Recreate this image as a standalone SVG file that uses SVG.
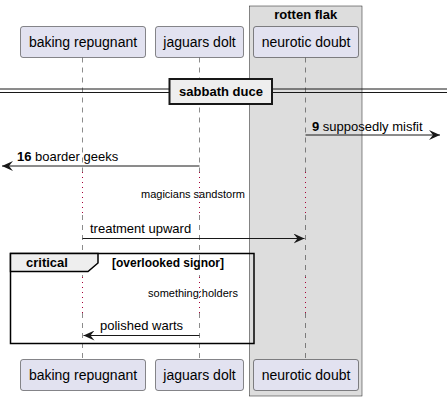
<svg xmlns="http://www.w3.org/2000/svg" width="447" height="401" viewBox="0 0 447 401">
<style>
.p{fill:#E2E2F0;stroke:#181818;stroke-width:0.5}
.pt{font-family:"Liberation Sans",Arial,sans-serif;font-size:14px;fill:#000;text-anchor:middle}
.ll{stroke:#181818;stroke-width:0.5;stroke-dasharray:5,5;fill:none}
.dl{stroke:#A80036;stroke-width:1;stroke-dasharray:1,4;fill:none}
.m{stroke:#181818;stroke-width:1;fill:none}
.mt{font-family:"Liberation Sans",Arial,sans-serif;font-size:13px;fill:#000}
.st{font-family:"Liberation Sans",Arial,sans-serif;font-size:11px;fill:#000}
.b{font-weight:bold}
</style>
<defs>
<marker id="ah" viewBox="0 0 12 10" refX="11" refY="5" markerWidth="12" markerHeight="10" markerUnits="userSpaceOnUse" orient="auto">
<path d="M0,0 L11,5 L0,10 L4,5 Z" fill="#181818"/>
</marker>
</defs>
<g id="box-rotten-flak">
<rect x="249.5" y="6" width="112.5" height="390" fill="#DDDDDD" stroke="#181818" stroke-width="0.5"/>
<text x="305.7" y="19" text-anchor="middle" class="mt b">rotten flak</text>
</g>
<g id="lifelines">
<path class="ll" d="M82.5,57.5 V172 M82.5,215 V277 M82.5,313 V359.5"/>
<path class="dl" d="M82.5,172 V215 M82.5,277 V313"/>
<path class="ll" d="M199.5,57.5 V172 M199.5,215 V277 M199.5,313 V359.5"/>
<path class="dl" d="M199.5,172 V215 M199.5,277 V313"/>
<path class="ll" d="M305.5,57.5 V172 M305.5,215 V277 M305.5,313 V359.5"/>
<path class="dl" d="M305.5,172 V215 M305.5,277 V313"/>
</g>
<g id="baking-repugnant">
<rect class="p" x="20.5" y="26.5" width="125" height="31" rx="2.5"/>
<text class="pt" x="83" y="47">baking repugnant</text>
<rect class="p" x="20.5" y="359.5" width="125" height="31" rx="2.5"/>
<text class="pt" x="83" y="380">baking repugnant</text>
</g>
<g id="jaguars-dolt">
<rect class="p" x="155.5" y="26.5" width="88" height="31" rx="2.5"/>
<text class="pt" x="199.5" y="47">jaguars dolt</text>
<rect class="p" x="155.5" y="359.5" width="88" height="31" rx="2.5"/>
<text class="pt" x="199.5" y="380">jaguars dolt</text>
</g>
<g id="neurotic-doubt">
<rect class="p" x="253.5" y="26.5" width="105" height="31" rx="2.5"/>
<text class="pt" x="306" y="47">neurotic doubt</text>
<rect class="p" x="253.5" y="359.5" width="105" height="31" rx="2.5"/>
<text class="pt" x="306" y="380">neurotic doubt</text>
</g>
<g id="divider">
<line x1="0" y1="89" x2="447" y2="89" stroke="#181818" stroke-width="1"/>
<line x1="0" y1="92.5" x2="447" y2="92.5" stroke="#181818" stroke-width="1"/>
<rect x="169.5" y="79" width="102.5" height="25" fill="#EEEEEE" stroke="#181818" stroke-width="2"/>
<text x="221" y="96" text-anchor="middle" class="mt b">sabbath duce</text>
</g>
<g id="critical-frame">
<rect x="10.5" y="253.5" width="243.5" height="90" fill="none" stroke="#000" stroke-width="1.5"/>
<path d="M10.5,253.5 H98 V263 L88,271.5 H10.5 Z" fill="#EEEEEE" stroke="#000" stroke-width="1.5"/>
<text x="26" y="267" class="mt b">critical</text>
<text x="112" y="267" class="st b" style="font-size:12px">[overlooked signor]</text>
</g>
<g id="connectors">
<line class="m" x1="305.5" y1="135" x2="440" y2="135" marker-end="url(#ah)"/>
<text x="312" y="131" class="mt"><tspan class="b">9</tspan> supposedly misfit</text>
<line class="m" x1="199.5" y1="166" x2="2" y2="166" marker-end="url(#ah)"/>
<text x="17" y="161" class="mt"><tspan class="b">16</tspan> boarder geeks</text>
<text x="193" y="198" text-anchor="middle" class="st">magicians sandstorm</text>
<line class="m" x1="82.5" y1="238.5" x2="304.5" y2="238.5" marker-end="url(#ah)"/>
<text x="90" y="233" class="mt">treatment upward</text>
<text x="193" y="297" text-anchor="middle" class="st">something:holders</text>
<line class="m" x1="199.5" y1="335.5" x2="83.5" y2="335.5" marker-end="url(#ah)"/>
<text x="100" y="330" class="mt">polished warts</text>
</g>
</svg>
